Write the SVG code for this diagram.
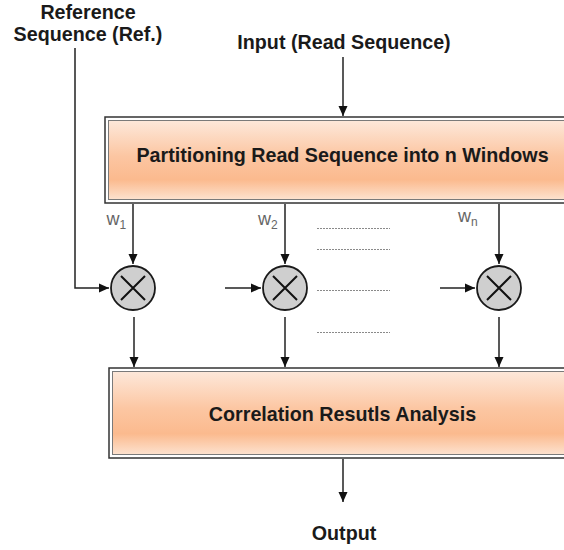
<svg xmlns="http://www.w3.org/2000/svg" width="564" height="550" viewBox="0 0 564 550">
  <defs>
    <linearGradient id="boxFill" x1="0" y1="0" x2="0" y2="1">
      <stop offset="0" stop-color="#fde8da"/>
      <stop offset="0.45" stop-color="#fcc6a2"/>
      <stop offset="0.75" stop-color="#fbba8e"/>
      <stop offset="1" stop-color="#fde2cf"/>
    </linearGradient>
    <marker id="arrow" viewBox="0 0 10 10" refX="10" refY="5" markerWidth="10" markerHeight="10" markerUnits="userSpaceOnUse" orient="auto">
      <path d="M0,0.5 L10,5 L0,9.5 Z" fill="#111"/>
    </marker>
  </defs>
  <style>
    .title { font-family: "Liberation Sans", Arial, sans-serif; font-weight: bold; font-size: 19.7px; fill: #1a1a1a; text-anchor: middle; }
    .outer { fill: #ffffff; stroke: #333333; stroke-width: 1.5; }
    .inner { fill: url(#boxFill); stroke: #7a7a7a; stroke-width: 1; }
    .conn { fill: none; stroke: #222222; stroke-width: 1.5; }
    .dots { fill: none; stroke: #8a8a8a; stroke-width: 1; stroke-dasharray: 2 1; }
    .mult circle { fill: #cfcfcf; stroke: #1a1a1a; stroke-width: 1.8; }
    .mult path { stroke: #111111; stroke-width: 2; fill: none; }
    .wlabel { font-family: "Liberation Sans", Arial, sans-serif; font-size: 18px; fill: #666666; }
    .wsub { font-size: 12px; }
  </style>

  <rect width="564" height="550" fill="#ffffff"/>

  <!-- labels outside the blocks -->
  <g id="ref-label">
    <text class="title" x="88" y="18.5">Reference</text>
    <text class="title" x="88" y="41">Sequence (Ref.)</text>
  </g>
  <g id="input-label">
    <text class="title" x="344" y="48.5">Input (Read Sequence)</text>
  </g>
  <g id="output-label">
    <text class="title" x="344" y="540">Output</text>
  </g>

  <!-- partitioning block -->
  <g id="partition">
    <rect class="outer" x="105" y="117" width="470" height="86"/>
    <rect class="inner" x="108.5" y="120.5" width="470" height="79"/>
    <text class="title" x="342.5" y="162">Partitioning Read Sequence into n Windows</text>
  </g>

  <!-- correlation block -->
  <g id="analysis">
    <rect class="outer" x="109" y="368" width="470" height="90"/>
    <rect class="inner" x="112.5" y="371.5" width="470" height="83"/>
    <text class="title" x="342.5" y="421">Correlation Resutls Analysis</text>
  </g>

  <!-- multipliers -->
  <g id="mult1" class="mult">
    <circle cx="133" cy="288" r="22"/>
    <path d="M121,276 L145,300 M145,276 L121,300"/>
  </g>
  <g id="mult2" class="mult">
    <circle cx="285" cy="288" r="22"/>
    <path d="M273,276 L297,300 M297,276 L273,300"/>
  </g>
  <g id="mult3" class="mult">
    <circle cx="499" cy="288" r="22"/>
    <path d="M487,276 L511,300 M511,276 L487,300"/>
  </g>

  <!-- window labels -->
  <g id="w1">
    <text class="wlabel" x="106.5" y="225">w<tspan class="wsub" dy="3.5">1</tspan></text>
  </g>
  <g id="w2">
    <text class="wlabel" x="258" y="225">w<tspan class="wsub" dy="3.5">2</tspan></text>
  </g>
  <g id="wn">
    <text class="wlabel" x="458" y="222">w<tspan class="wsub" dy="4">n</tspan></text>
  </g>

  <!-- connectors -->
  <g id="connectors">
    <path class="conn" d="M343,57 L343,116" marker-end="url(#arrow)"/>
    <path class="conn" d="M75,48 L75,288 L109,288" marker-end="url(#arrow)"/>
    <path class="conn" d="M133,204 L133,264" marker-end="url(#arrow)"/>
    <path class="conn" d="M285,204 L285,264" marker-end="url(#arrow)"/>
    <path class="conn" d="M499,204 L499,264" marker-end="url(#arrow)"/>
    <path class="conn" d="M225,288 L261,288" marker-end="url(#arrow)"/>
    <path class="conn" d="M440,288 L475,288" marker-end="url(#arrow)"/>
    <path class="conn" d="M134,317 L134,367" marker-end="url(#arrow)"/>
    <path class="conn" d="M285,317 L285,367" marker-end="url(#arrow)"/>
    <path class="conn" d="M499,317 L499,367" marker-end="url(#arrow)"/>
    <path class="conn" d="M343,459 L343,502" marker-end="url(#arrow)"/>
  </g>

  <!-- ellipsis rows between the middle and last windows -->
  <g id="ellipsis">
    <path class="dots" d="M317,228.5 H390 M317,249.5 H390 M317,290.5 H390 M317,332.5 H390"/>
  </g>
</svg>
